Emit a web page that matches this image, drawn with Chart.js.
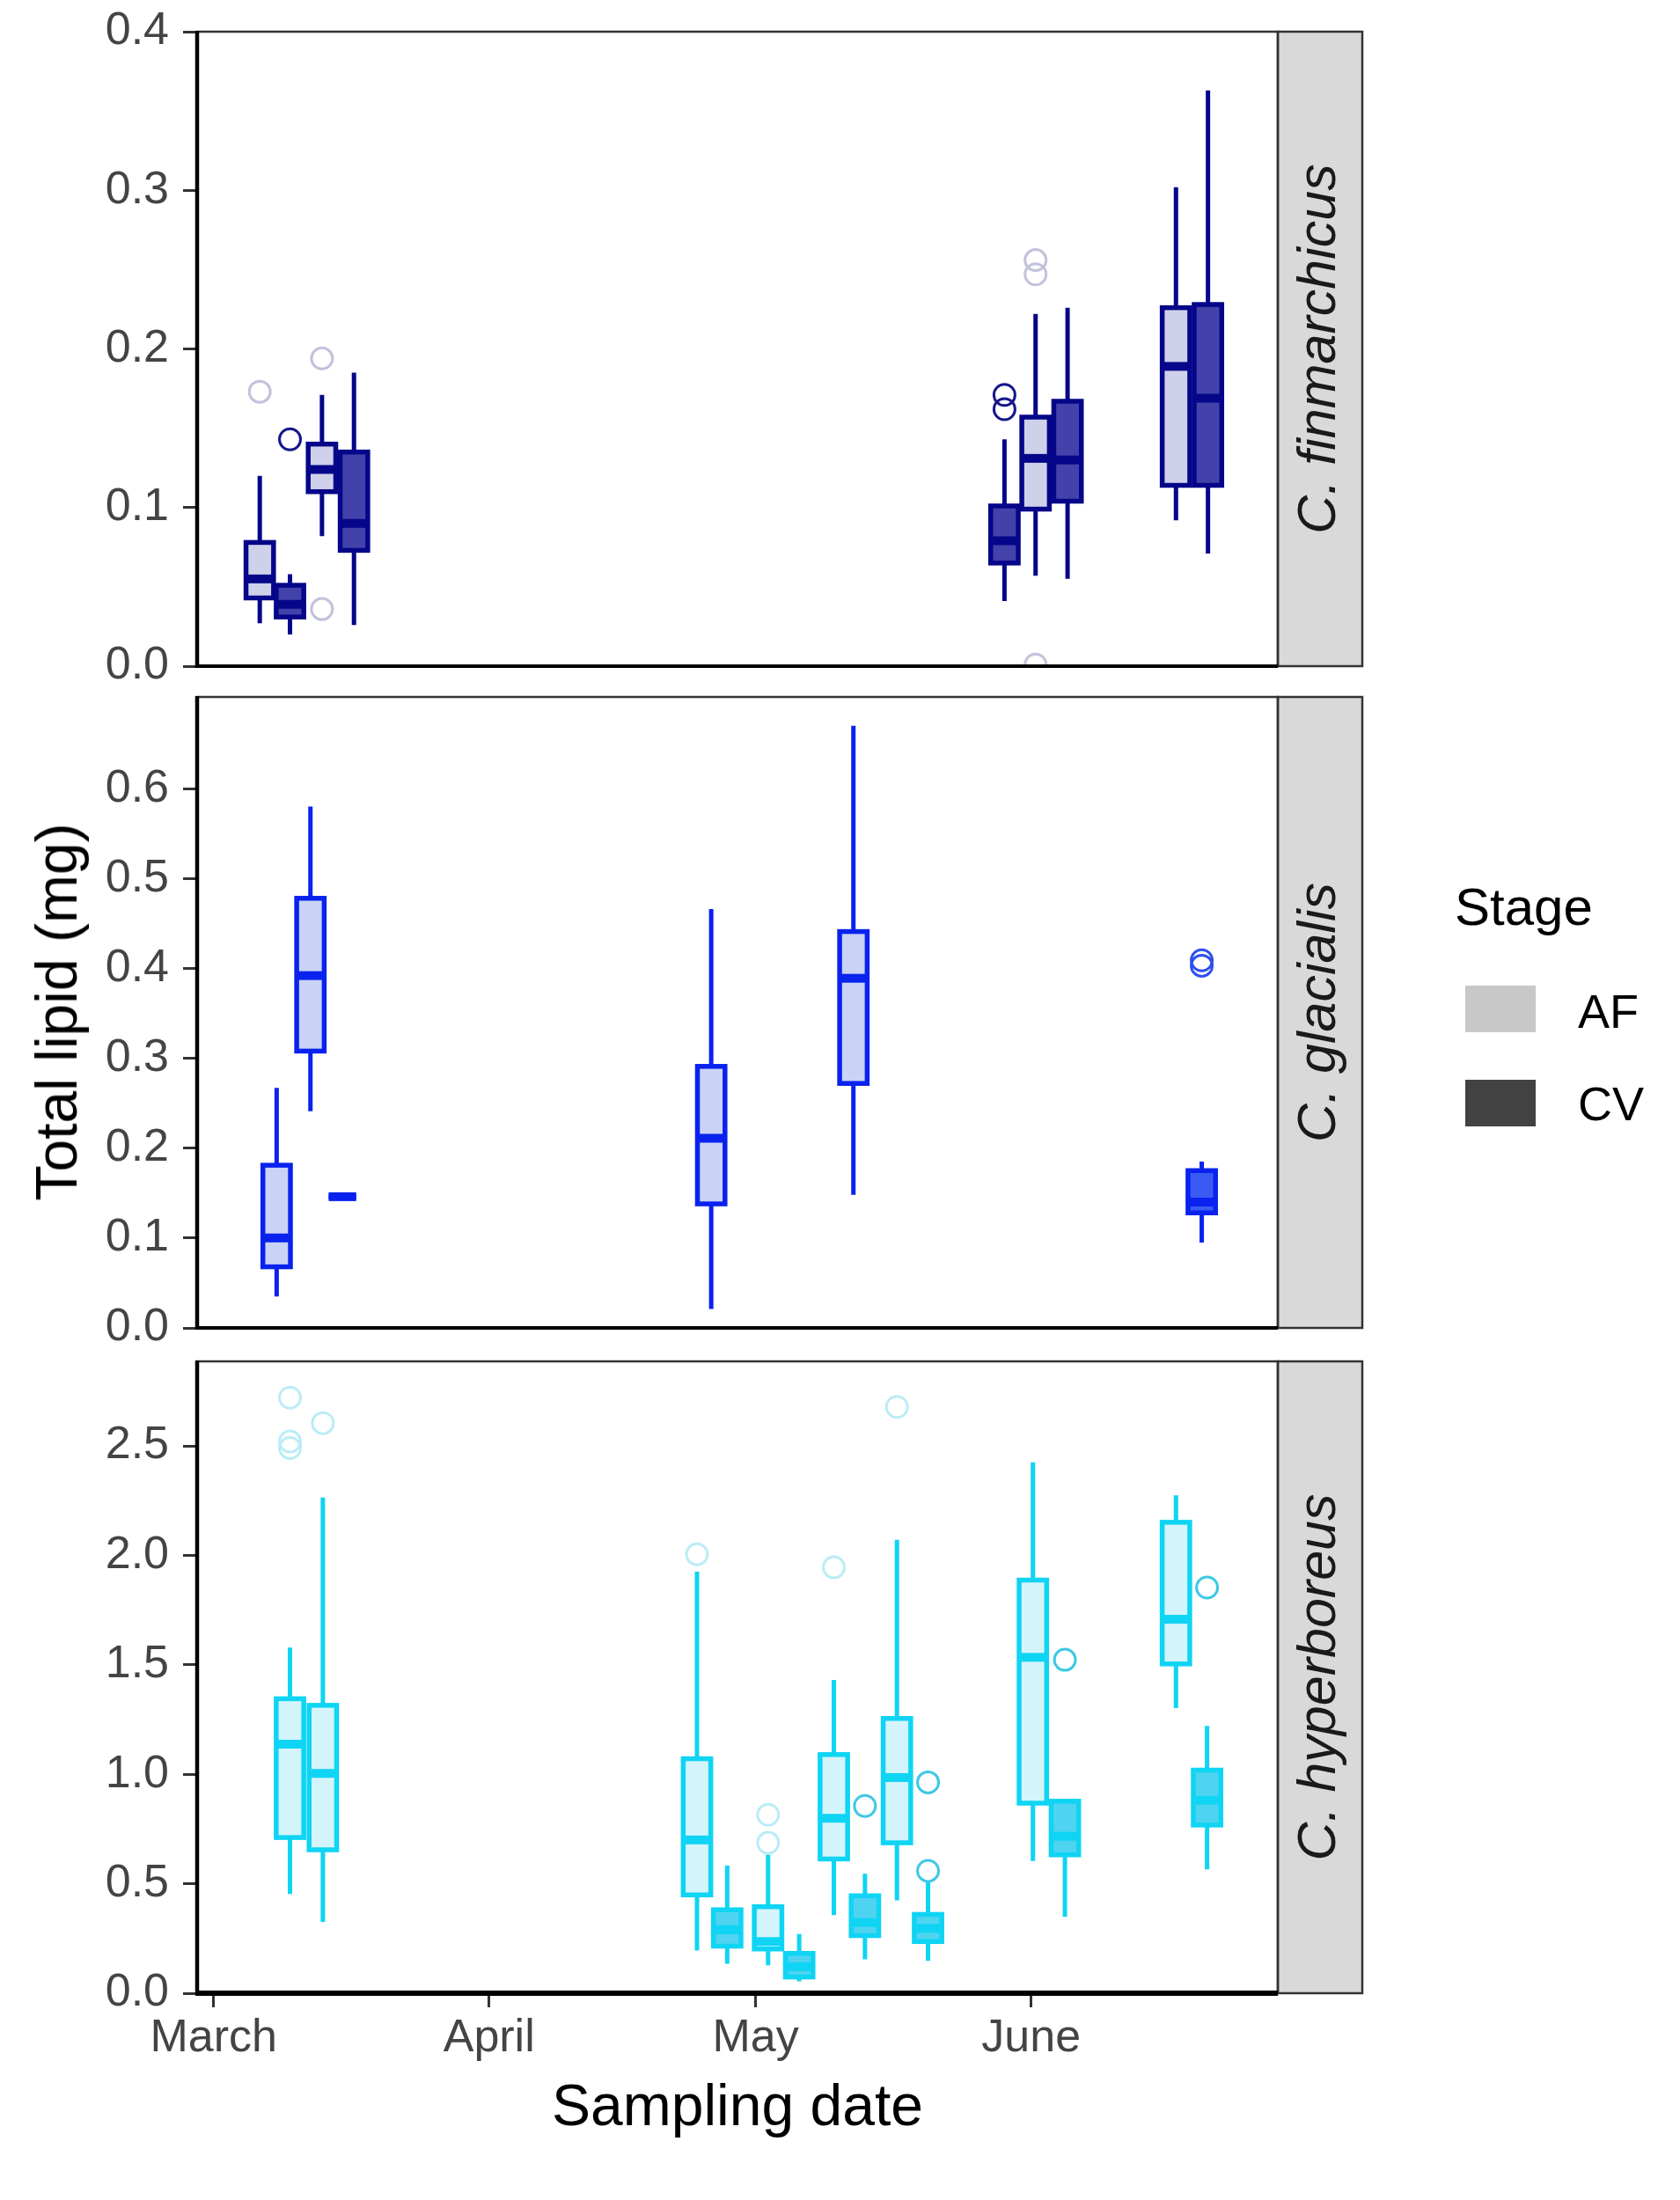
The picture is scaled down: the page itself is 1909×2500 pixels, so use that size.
<!DOCTYPE html>
<html>
<head>
<meta charset="utf-8">
<title>Total lipid by sampling date</title>
<script src="https://cdn.jsdelivr.net/npm/chart.js@4.4.1/dist/chart.umd.min.js"></script>
<style>
  body { margin: 0; background: #fff; width: 1909px; height: 2500px; position: relative; overflow: hidden; font-family: "Liberation Sans", Arial, sans-serif; }
  canvas { position: absolute; left: 0; }
  .txt { position: absolute; white-space: nowrap; line-height: 1; color: #000; }
  .ytitle { left: 64px; top: 1150px; font-size: 66px; transform: translate(-50%, -50%) rotate(-90deg); }
  .xtitle { left: 838px; top: 2359px; font-size: 66px; transform: translateX(-50%); }
  .legend-title { left: 1653px; top: 1001px; font-size: 60px; }
  .legend-key { position: absolute; left: 1665px; width: 80px; height: 53px; }
  .legend-label { left: 1793px; font-size: 54px; }
</style>
</head>
<body>
<canvas id="panelFin" width="1560" height="821" style="top:-14px;width:1560px;height:821px"></canvas>
<canvas id="panelGla" width="1560" height="817" style="top:742px;width:1560px;height:817px"></canvas>
<canvas id="panelHyp" width="1560" height="868" style="top:1497px;width:1560px;height:868px"></canvas>

<div class="txt ytitle">Total lipid (mg)</div>
<div class="txt xtitle">Sampling date</div>
<div class="txt legend-title">Stage</div>
<div class="legend-key" style="top:1120px;background:#c8c8c8"></div>
<div class="txt legend-label" style="top:1122px">AF</div>
<div class="legend-key" style="top:1227px;background:#424242"></div>
<div class="txt legend-label" style="top:1227px">CV</div>

<script>
"use strict";

// x axis: day of year, ticks on the first of each month
const monthDays = [60, 91, 121, 152];
const monthLabels = ['March', 'April', 'May', 'June'];
const X_MIN = 58.15, X_MAX = 179.76;
const BOX_WIDTH_DAYS = 3.1;

// C. finmarchicus
const finDay   = [65.2, 68.6, 72.2, 75.8, 149.0, 152.5, 156.1, 168.3, 171.9];
const finStage = ['AF', 'CV', 'AF', 'CV', 'CV', 'AF', 'CV', 'AF', 'CV'];
const finLow   = [0.027, 0.020, 0.082, 0.026, 0.041, 0.057, 0.055, 0.092, 0.071];
const finQ1    = [0.043, 0.031, 0.110, 0.073, 0.065, 0.099, 0.104, 0.114, 0.114];
const finMed   = [0.055, 0.039, 0.124, 0.090, 0.079, 0.131, 0.130, 0.189, 0.169];
const finQ3    = [0.078, 0.051, 0.140, 0.135, 0.101, 0.157, 0.167, 0.226, 0.228];
const finHigh  = [0.120, 0.058, 0.171, 0.185, 0.143, 0.222, 0.226, 0.302, 0.363];
const finOutDay   = [65.2, 68.6, 72.2, 72.2, 149.0, 149.0, 152.5, 152.5, 152.5];
const finOutVal   = [0.173, 0.143, 0.194, 0.036, 0.162, 0.171, 0.247, 0.256, 0.001];
const finOutStage = ['AF', 'CV', 'AF', 'AF', 'CV', 'CV', 'AF', 'AF', 'AF'];
const finTicks = [0, 0.1, 0.2, 0.3, 0.4];

// C. glacialis
const glaDay   = [67.1, 70.9, 74.5, 116.0, 132.0, 171.2];
const glaStage = ['AF', 'AF', 'CV', 'AF', 'AF', 'CV'];
const glaLow   = [0.035, 0.241, 0.146, 0.021, 0.148, 0.095];
const glaQ1    = [0.068, 0.308, 0.146, 0.138, 0.272, 0.128];
const glaMed   = [0.100, 0.392, 0.146, 0.211, 0.389, 0.140];
const glaQ3    = [0.181, 0.478, 0.146, 0.291, 0.441, 0.175];
const glaHigh  = [0.267, 0.580, 0.146, 0.466, 0.670, 0.185];
const glaOutDay   = [171.2, 171.2];
const glaOutVal   = [0.403, 0.409];
const glaOutStage = ['CV', 'CV'];
const glaTicks = [0, 0.1, 0.2, 0.3, 0.4, 0.5, 0.6];

// C. hyperboreus
const hypDay   = [68.6, 72.3, 114.4, 117.8, 122.4, 125.9, 129.8, 133.3, 136.9, 140.4, 152.2, 155.8, 168.3, 171.8];
const hypStage = ['AF', 'AF', 'AF', 'CV', 'AF', 'CV', 'AF', 'CV', 'AF', 'CV', 'AF', 'CV', 'AF', 'CV'];
const hypLow   = [0.453, 0.326, 0.195, 0.135, 0.128, 0.054, 0.357, 0.155, 0.424, 0.148, 0.604, 0.349, 1.302, 0.566];
const hypQ1    = [0.711, 0.655, 0.449, 0.215, 0.202, 0.074, 0.613, 0.263, 0.687, 0.236, 0.868, 0.632, 1.504, 0.768];
const hypMed   = [1.138, 1.004, 0.700, 0.290, 0.236, 0.121, 0.799, 0.323, 0.985, 0.296, 1.534, 0.717, 1.708, 0.881];
const hypQ3    = [1.345, 1.315, 1.071, 0.381, 0.395, 0.182, 1.090, 0.445, 1.255, 0.360, 1.887, 0.877, 2.151, 1.019];
const hypHigh  = [1.579, 2.264, 1.925, 0.583, 0.633, 0.270, 1.431, 0.546, 2.071, 0.512, 2.425, 0.880, 2.274, 1.221];
const hypOutDay   = [68.6, 68.6, 68.6, 72.3, 114.4, 122.4, 122.4, 129.8, 133.3, 136.9, 140.4, 140.4, 155.8, 171.8];
const hypOutVal   = [2.49, 2.52, 2.72, 2.604, 2.005, 0.687, 0.815, 1.945, 0.855, 2.678, 0.963, 0.559, 1.523, 1.853];
const hypOutStage = ['AF', 'AF', 'AF', 'AF', 'AF', 'AF', 'AF', 'AF', 'CV', 'AF', 'CV', 'CV', 'CV', 'CV'];
const hypTicks = [0, 0.5, 1.0, 1.5, 2.0, 2.5];

const panels = [
    {
        canvas: 'panelFin', name: 'C. finmarchicus', yMax: 0.4, ticks: finTicks, showX: false,
        day: finDay, stage: finStage, low: finLow, q1: finQ1, med: finMed, q3: finQ3, high: finHigh,
        outDay: finOutDay, outVal: finOutVal, outStage: finOutStage,
        stroke: '#06068a', fillAF: '#cfd0ea', fillCV: '#4242aa', outAF: '#c2c2dc', outCV: '#16168c'
    },
    {
        canvas: 'panelGla', name: 'C. glacialis', yMax: 0.702, ticks: glaTicks, showX: false,
        day: glaDay, stage: glaStage, low: glaLow, q1: glaQ1, med: glaMed, q3: glaQ3, high: glaHigh,
        outDay: glaOutDay, outVal: glaOutVal, outStage: glaOutStage,
        stroke: '#0a22ee', fillAF: '#c9d3f5', fillCV: '#3a5af4', outAF: '#c0ccf4', outCV: '#2f50ee'
    },
    {
        canvas: 'panelHyp', name: 'C. hyperboreus', yMax: 2.886, ticks: hypTicks, showX: true,
        day: hypDay, stage: hypStage, low: hypLow, q1: hypQ1, med: hypMed, q3: hypQ3, high: hypHigh,
        outDay: hypOutDay, outVal: hypOutVal, outStage: hypOutStage,
        stroke: '#0fd4f4', fillAF: '#d4f4fb', fillCV: '#4ed4f0', outAF: '#bcecf6', outCV: '#3fc9e4'
    }
];

Chart.defaults.font.family = '"Liberation Sans", Arial, sans-serif';

// box, whiskers and median for every group, placed through the chart scales
function boxLayer(p) {
    return {
        id: 'boxLayer',
        beforeDatasetsDraw(chart) {
            const { ctx, chartArea: a, scales: { x, y } } = chart;
            ctx.save();
            ctx.beginPath();
            ctx.rect(a.left, a.top, a.right - a.left, a.bottom - a.top);
            ctx.clip();
            ctx.strokeStyle = p.stroke;
            p.day.forEach((d, i) => {
                const xc = x.getPixelForValue(d);
                const x0 = x.getPixelForValue(d - BOX_WIDTH_DAYS / 2);
                const x1 = x.getPixelForValue(d + BOX_WIDTH_DAYS / 2);
                const yLo = y.getPixelForValue(p.low[i]);
                const yQ1 = y.getPixelForValue(p.q1[i]);
                const yMed = y.getPixelForValue(p.med[i]);
                const yQ3 = y.getPixelForValue(p.q3[i]);
                const yHi = y.getPixelForValue(p.high[i]);

                ctx.lineWidth = 5;
                ctx.lineCap = 'butt';
                ctx.beginPath();
                ctx.moveTo(xc, yHi); ctx.lineTo(xc, yQ3);
                ctx.moveTo(xc, yQ1); ctx.lineTo(xc, yLo);
                ctx.stroke();

                ctx.fillStyle = p.stage[i] === 'AF' ? p.fillAF : p.fillCV;
                ctx.fillRect(x0, yQ3, x1 - x0, yQ1 - yQ3);
                ctx.lineWidth = 5.5;
                ctx.strokeRect(x0, yQ3, x1 - x0, yQ1 - yQ3);

                ctx.lineWidth = 10;
                ctx.beginPath();
                ctx.moveTo(x0, yMed); ctx.lineTo(x1, yMed);
                ctx.stroke();
            });
            ctx.restore();
        }
    };
}

// panel border, axis lines and the grey facet strip
function frameLayer(p) {
    return {
        id: 'frameLayer',
        afterDraw(chart) {
            const { ctx, chartArea: a } = chart;
            const stripW = 96;
            ctx.save();
            ctx.fillStyle = '#d9d9d9';
            ctx.fillRect(a.right, a.top, stripW, a.bottom - a.top);
            ctx.strokeStyle = '#333';
            ctx.lineWidth = 2.5;
            ctx.strokeRect(a.right, a.top, stripW, a.bottom - a.top);
            ctx.strokeRect(a.left, a.top, a.right - a.left, a.bottom - a.top);

            ctx.strokeStyle = '#000';
            ctx.lineWidth = 4.5;
            ctx.beginPath();
            ctx.moveTo(a.left, a.top - 1); ctx.lineTo(a.left, a.bottom + 2);
            ctx.stroke();
            ctx.lineWidth = p.showX ? 6 : 4;
            ctx.beginPath();
            ctx.moveTo(a.left - 2, a.bottom); ctx.lineTo(a.right, a.bottom);
            ctx.stroke();

            ctx.translate(a.right + stripW / 2, (a.top + a.bottom) / 2);
            ctx.rotate(-Math.PI / 2);
            ctx.fillStyle = '#1a1a1a';
            ctx.font = 'italic 61px "Liberation Sans", Arial, sans-serif';
            ctx.textAlign = 'center';
            ctx.textBaseline = 'middle';
            ctx.fillText(p.name, 0, 0);
            ctx.restore();
        }
    };
}

function outlierSet(p, stage) {
    const pts = [];
    p.outDay.forEach((d, i) => { if (p.outStage[i] === stage) pts.push({ x: d, y: p.outVal[i] }); });
    return {
        label: stage,
        data: pts,
        pointStyle: 'circle',
        pointRadius: 12,
        pointBorderWidth: 3,
        pointBackgroundColor: 'rgba(0,0,0,0)',
        pointBorderColor: stage === 'AF' ? p.outAF : p.outCV,
        showLine: false
    };
}

panels.forEach(p => {
    const ctx = document.getElementById(p.canvas).getContext('2d');
    new Chart(ctx, {
        type: 'scatter',
        data: { datasets: [outlierSet(p, 'AF'), outlierSet(p, 'CV')] },
        options: {
            responsive: false, animation: false, devicePixelRatio: 1,
            layout: { padding: { top: 50, right: 108, bottom: p.showX ? 0 : 50, left: 0 } },
            plugins: { legend: { display: false }, tooltip: { enabled: false } },
            scales: {
                x: {
                    type: 'linear', min: X_MIN, max: X_MAX, display: p.showX,
                    afterBuildTicks: s => { s.ticks = monthDays.map(v => ({ value: v })); },
                    afterFit: s => { if (p.showX) s.height = 100; },
                    ticks: {
                        autoSkip: false, maxRotation: 0, padding: 4, color: '#444',
                        font: { size: 52 },
                        callback: v => monthLabels[monthDays.indexOf(v)]
                    },
                    grid: { drawOnChartArea: false, tickLength: 16, tickWidth: 3, tickColor: '#333' },
                    border: { display: false }
                },
                y: {
                    type: 'linear', min: 0, max: p.yMax,
                    afterBuildTicks: s => { s.ticks = p.ticks.map(v => ({ value: v })); },
                    afterFit: s => { s.width = 224; },
                    ticks: {
                        padding: 16, color: '#444', font: { size: 52 },
                        callback: v => v.toFixed(1)
                    },
                    grid: { drawOnChartArea: false, tickLength: 16, tickWidth: 3, tickColor: '#333' },
                    border: { display: false }
                }
            }
        },
        plugins: [boxLayer(p), frameLayer(p)]
    });
});
</script>
</body>
</html>
